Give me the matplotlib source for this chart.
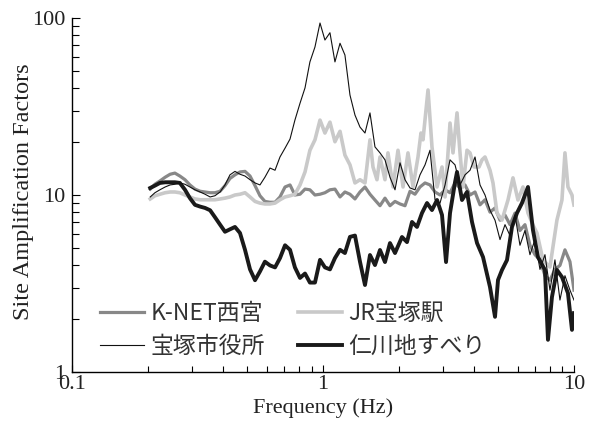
import matplotlib
matplotlib.use("Agg")
import matplotlib.pyplot as plt
from matplotlib.ticker import LogLocator, NullFormatter, FixedLocator, FixedFormatter

# ---- data (frequency in Hz, amplification factor) ----
# low-frequency part, shared sampling
freq_low = [0.205, 0.214, 0.224, 0.235, 0.246, 0.257, 0.269, 0.282, 0.295, 0.309,
            0.324, 0.339, 0.355, 0.371, 0.389, 0.407, 0.426, 0.446, 0.467, 0.489,
            0.512, 0.536, 0.561, 0.587, 0.615, 0.644, 0.674, 0.706, 0.739, 0.773,
            0.810, 0.848, 0.887, 0.929, 0.973, 1.018, 1.066, 1.116, 1.169, 1.223,
            1.281, 1.341, 1.404, 1.470]

knet_low = [10.8, 11.5, 12.0, 12.6, 13.1, 13.3, 12.8, 12.2, 11.4, 10.8,
            10.5, 10.4, 10.3, 10.3, 10.5, 11.3, 12.4, 13.0, 13.5, 13.6,
            12.8, 11.3, 9.9, 9.2, 9.1, 9.1, 9.75, 11.1, 11.4, 10.0,
            10.1, 10.8, 10.7, 10.0, 10.1, 10.3, 10.7, 10.8, 9.75, 10.4,
            10.1, 9.5, 10.4, 11.1]
jr_low = [9.5, 9.9, 10.1, 10.3, 10.4, 10.4, 10.3, 10.0, 9.75, 9.5,
          9.4, 9.4, 9.4, 9.4, 9.5, 9.6, 9.75, 10.0, 10.1, 10.3,
          9.75, 9.2, 9.0, 8.9, 8.9, 9.0, 9.4, 9.75, 9.9, 10.1,
          11.4, 13.5, 17.9, 20.5, 26.5, 22.4, 25.8, 20.0, 22.9, 16.8,
          14.8, 11.7, 12.2, 11.7]
cityhall_low = [9.75, 10.3, 10.7, 11.1, 11.4, 11.5, 11.7, 11.5, 11.1, 10.7,
                10.4, 10.1, 9.75, 9.9, 10.4, 11.4, 13.0, 13.6, 13.1, 12.8,
                12.2, 11.7, 11.4, 12.6, 14.2, 13.8, 16.4, 18.4, 20.7, 26.5,
                33.0, 40.3, 56.5, 68.6, 93.7, 75.1, 82.6, 56.5, 72.0, 61.8,
                36.7, 28.3, 24.2, 22.4]
nigawa_low = [10.96, 11.3, 11.7, 11.8, 11.8, 11.8, 11.7, 10.7, 9.6, 8.8,
              8.6, 8.45, 8.2, 7.5, 6.8, 6.2, 6.4, 6.6, 6.1, 4.9,
              3.8, 3.3, 3.7, 4.2, 4.0, 3.9, 4.4, 5.2, 4.9, 3.9,
              3.4, 3.6, 3.2, 3.2, 4.3, 3.9, 3.8, 4.4, 4.9, 4.7,
              5.8, 5.9, 4.2, 3.1]

# high-frequency part
freq_high_grid = [1.539, 1.611, 1.687, 1.766, 1.849, 1.936, 2.027, 2.122, 2.222, 2.326,
                  2.435, 2.550, 2.669, 2.795, 2.926, 3.064, 3.207, 3.358, 3.515, 3.680,
                  3.853, 4.034, 4.223, 4.421, 4.628, 4.846, 5.073, 5.311, 5.559, 5.820,
                  6.093, 6.379, 6.678, 6.991, 7.319, 7.663, 8.022, 8.398, 8.792, 9.205,
                  9.639, 10.0]
knet_high = [10.1, 9.37, 8.7, 9.6, 8.7, 9.2, 8.9, 8.7, 10.5, 10.1,
             11.1, 11.7, 11.4, 10.4, 10.0, 10.7, 10.3, 11.7, 10.96, 11.4,
             10.0, 10.4, 8.8, 9.4, 8.0, 8.45, 7.2, 7.7, 6.8, 7.9,
             6.3, 6.8, 5.2, 4.6, 4.3, 3.5, 3.3, 3.8, 4.0, 4.9,
             4.2, 2.9]
cityhall_high = [29.1, 18.7, 17.3, 15.8, 12.6, 10.7, 15.2, 12.2, 10.96, 10.7,
                 13.0, 14.8, 17.9, 9.4, 9.0, 11.4, 15.8, 14.8, 11.4, 13.0,
                 13.8, 16.4, 11.4, 10.0, 8.2, 7.2, 5.6, 6.8, 5.9, 7.7,
                 5.2, 6.3, 4.6, 5.6, 3.8, 4.6, 2.9, 4.3, 2.55, 3.5,
                 2.9, 2.55]

jr_freq_high = [1.539, 1.582, 1.641, 1.687, 1.766, 1.815, 1.901, 1.990, 2.084, 2.181,
                2.284, 2.391, 2.457, 2.503, 2.621, 2.718, 2.847, 2.980, 3.064, 3.207,
                3.296, 3.420, 3.515, 3.613, 3.748, 3.853, 3.997, 4.185, 4.301, 4.421,
                4.628, 4.757, 4.936, 5.167, 5.459, 5.714, 5.982, 6.263, 6.557, 6.864,
                7.120, 7.523, 8.022, 8.553, 8.955, 9.205, 9.462, 9.817, 10.0]
jr_high = [20.5, 14.4, 12.2, 16.4, 12.2, 17.3, 11.1, 17.9, 11.1, 17.3,
           11.1, 16.4, 22.4, 20.5, 39.2, 18.7, 11.1, 14.4, 9.75, 25.5,
           17.3, 29.1, 17.3, 11.1, 17.9, 17.3, 14.4, 14.4, 15.8, 16.4,
           13.8, 11.7, 7.91, 7.22, 9.37, 12.5, 9.37, 11.1, 7.91, 6.77,
           6.10, 4.29, 3.92, 7.22, 9.37, 17.3, 11.1, 10.0, 8.78]

nigawa_freq_high = [1.539, 1.611, 1.687, 1.766, 1.849, 1.936, 2.064, 2.161, 2.263, 2.369,
                    2.480, 2.597, 2.718, 2.847, 2.980, 3.092, 3.207, 3.358, 3.420, 3.580,
                    3.748, 3.924, 4.109, 4.341, 4.628, 4.846, 4.981, 5.167, 5.409, 5.662,
                    5.928, 6.206, 6.557, 6.864, 7.186, 7.663, 7.877, 8.170, 8.553, 8.955,
                    9.462, 9.817, 10.0]
nigawa_high = [4.58, 4.02, 4.89, 4.18, 5.35, 4.70, 5.79, 5.42, 7.04, 6.60,
               7.91, 9.01, 8.22, 9.37, 7.71, 4.18, 7.91, 11.8, 13.5, 9.37,
               10.4, 7.04, 5.35, 4.46, 3.02, 2.05, 3.31, 3.77, 4.29, 6.60,
               7.91, 9.01, 11.1, 6.34, 4.46, 3.77, 1.52, 2.65, 3.77, 3.44,
               2.79, 1.73, 2.15]

labels = ["K-NET西宮", "JR宝塚駅", "宝塚市役所", "仁川地すべり"]
x_ticks = [0.1, 1, 10]
x_tick_labels = ["0.1", "1", "10"]
y_ticks = [1, 10, 100]
y_tick_labels = ["1", "10", "100"]

serif = "Liberation Serif"
plt.rcParams["font.family"] = ["Noto Sans CJK JP", "DejaVu Sans"]

fig = plt.figure(figsize=(5.94, 4.23), dpi=100)
ax = fig.add_axes([0.1212, 0.1206, 0.8451, 0.8368])

l1, = ax.plot(freq_low + freq_high_grid, knet_low + knet_high, color="#888888",
              lw=2.3, zorder=2, solid_joinstyle="round")
l2, = ax.plot(freq_low + jr_freq_high, jr_low + jr_high, color="#c9c9c9",
              lw=2.6, zorder=3, solid_joinstyle="round")
l3, = ax.plot(freq_low + freq_high_grid, cityhall_low + cityhall_high,
              color="#111111", lw=0.8, zorder=5)
l4, = ax.plot(freq_low + nigawa_freq_high, nigawa_low + nigawa_high,
              color="#1a1a1a", lw=2.8, zorder=4, solid_joinstyle="round")

ax.set_xscale("log")
ax.set_yscale("log")
ax.set_xlim(0.1, 10)
ax.set_ylim(1, 100)

for s in ["top", "right"]:
    ax.spines[s].set_visible(False)
for s in ["left", "bottom"]:
    ax.spines[s].set_linewidth(1.0)

ax.xaxis.set_major_locator(FixedLocator(x_ticks))
ax.xaxis.set_major_formatter(FixedFormatter(x_tick_labels))
ax.yaxis.set_major_locator(FixedLocator(y_ticks))
ax.yaxis.set_major_formatter(FixedFormatter(y_tick_labels))
ax.xaxis.set_minor_locator(LogLocator(base=10, subs=range(2, 10)))
ax.yaxis.set_minor_locator(LogLocator(base=10, subs=range(2, 10)))
ax.xaxis.set_minor_formatter(NullFormatter())
ax.yaxis.set_minor_formatter(NullFormatter())
ax.tick_params(axis="both", which="both", direction="in")
ax.tick_params(axis="x", which="major", length=5, width=0.8, pad=2)
ax.tick_params(axis="x", which="minor", length=4, width=0.8)
ax.tick_params(axis="y", which="major", length=6, width=0.8, pad=5)
ax.tick_params(axis="y", which="minor", length=5, width=0.8)
for lab in ax.get_xticklabels() + ax.get_yticklabels():
    lab.set_fontfamily(serif)
    lab.set_fontsize(16)
    lab.set_color("#222222")

ax.set_xlabel("Frequency (Hz)", fontfamily=serif, fontsize=16, color="#222222",
              labelpad=3)
ax.set_ylabel("Site Amplification Factors", fontfamily=serif, fontsize=17.5,
              color="#222222")
ax.yaxis.set_label_coords(-0.075, 0.51)

# row-wise legend order: K-NET, JR / 宝塚市役所, 仁川地すべり
leg = ax.legend([l1, l3, l2, l4], [labels[0], labels[2], labels[1], labels[3]],
                ncol=2, loc="center left", bbox_to_anchor=(0.056, 0.119),
                frameon=False, fontsize=16.5, handlelength=1.9,
                handletextpad=0.3, columnspacing=1.45, labelspacing=0.45,
                borderpad=0.0, borderaxespad=0.0)
for t in leg.get_texts():
    t.set_color("#333333")

fig.savefig("out.png", dpi=100)
